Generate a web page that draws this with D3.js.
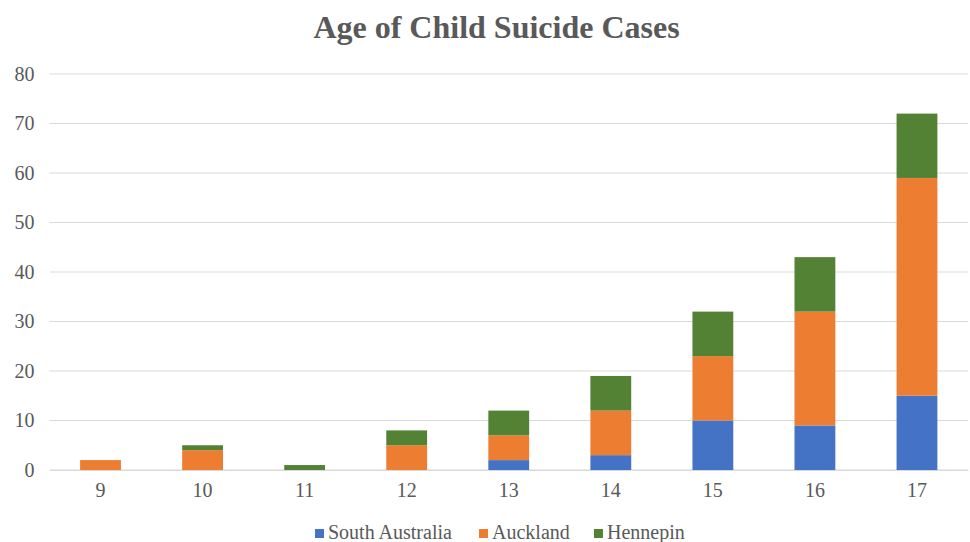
<!DOCTYPE html>
<html><head><meta charset="utf-8">
<script src="https://cdn.jsdelivr.net/npm/d3@7"></script>
<style>html,body{margin:0;padding:0;background:#fff;}svg{display:block;}</style>
</head><body>
<svg id="chart" width="970" height="542"></svg>
<script>
const title = "Age of Child Suicide Cases";
const ages = ["9","10","11","12","13","14","15","16","17"];
const seriesNames = ["South Australia","Auckland","Hennepin"];
const southAustralia = [0,0,0,0,2,3,10,9,15];
const auckland = [2,4,0,5,5,9,13,23,44];
const hennepin = [0,1,1,3,5,7,9,11,13];
const colors = ["#4472C4","#ED7D31","#548235"];
const yTicks = [0,10,20,30,40,50,60,70,80];

const rows = ages.map((a,i)=>({age:a,"South Australia":southAustralia[i],"Auckland":auckland[i],"Hennepin":hennepin[i]}));
const stack = d3.stack().keys(seriesNames)(rows);

const svg = d3.select("#chart");
const fontFam = "Liberation Serif";
const textCol = "#595959";
const m = {left:49.5,right:2};
const W=970;
const x = d3.scaleBand().domain(ages).range([m.left, W-m.right]).paddingInner(0.6).paddingOuter(0.3);
const y = d3.scaleLinear().domain([0,80]).range([470,74]);

// gridlines
svg.append("g").selectAll("line").data(yTicks).join("line")
  .attr("x1",m.left).attr("x2",W-m.right)
  .attr("y1",d=>y(d)).attr("y2",d=>y(d))
  .attr("stroke","#D9D9D9").attr("stroke-width",1.2);

// y labels
const yAxis = d3.axisLeft(y).tickValues(yTicks).tickSize(0).tickPadding(15);
const yg = svg.append("g").attr("transform",`translate(${m.left},0)`).call(yAxis);
yg.select(".domain").remove();
yg.selectAll("text").attr("font-family",fontFam).attr("font-size",20).attr("fill",textCol);

// bars
svg.append("g").selectAll("g").data(stack).join("g")
  .attr("fill",(d,i)=>colors[i])
  .selectAll("rect").data(d=>d).join("rect")
  .attr("x",d=>x(d.data.age)).attr("width",x.bandwidth())
  .attr("y",d=>y(d[1])).attr("height",d=>y(d[0])-y(d[1]));

// x axis
const xAxis = d3.axisBottom(x).tickSize(0).tickPadding(13);
const xg = svg.append("g").attr("transform","translate(0,470)").call(xAxis);
xg.select(".domain").attr("stroke","#D9D9D9").attr("stroke-width",1.2);
xg.selectAll("text").attr("font-family",fontFam).attr("font-size",20).attr("fill",textCol);

// title
svg.append("text").attr("x",496.5).attr("y",38).attr("text-anchor","middle")
  .attr("font-family",fontFam).attr("font-weight","bold").attr("font-size",32)
  .attr("fill",textCol).text(title);

// legend
const legendX = [315,479,594];
const lg = svg.append("g").selectAll("g").data(seriesNames).join("g")
  .attr("transform",(d,i)=>`translate(${legendX[i]},529)`);
lg.append("rect").attr("width",9).attr("height",9).attr("fill",(d,i)=>colors[i]);
lg.append("text").attr("x",13).attr("y",9.5).attr("font-family",fontFam).attr("font-size",20)
  .attr("fill",textCol).text(d=>d);
</script>
</body></html>
